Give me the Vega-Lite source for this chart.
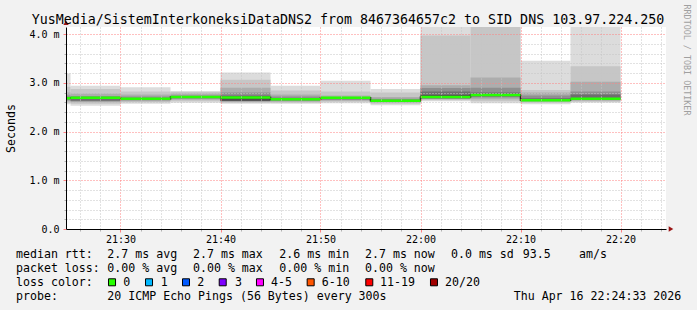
{
  "$schema": "https://vega.github.io/schema/vega-lite/v6.json",
  "width": 600,
  "height": 202,
  "autosize": {"type": "none"},
  "padding": {"left": 66, "top": 27, "right": 31, "bottom": 81},
  "background": "#f2f2f2",
  "config": {
    "font": "DejaVu Sans Mono",
    "view": {"fill": "white", "stroke": null}
  },
  "datasets": {
    "smoke": [
      {"m0": 20, "m1": 25, "lo": 2.56, "hi": 3.19, "shade": 1},
      {"m0": 25, "m1": 30, "lo": 2.53, "hi": 2.94, "shade": 1},
      {"m0": 30, "m1": 35, "lo": 2.57, "hi": 2.91, "shade": 1},
      {"m0": 35, "m1": 40, "lo": 2.59, "hi": 2.83, "shade": 1},
      {"m0": 40, "m1": 45, "lo": 2.57, "hi": 3.21, "shade": 1},
      {"m0": 45, "m1": 50, "lo": 2.57, "hi": 2.94, "shade": 1},
      {"m0": 50, "m1": 55, "lo": 2.58, "hi": 3.04, "shade": 1},
      {"m0": 55, "m1": 60, "lo": 2.54, "hi": 2.87, "shade": 1},
      {"m0": 60, "m1": 65, "lo": 2.62, "hi": 4.6, "shade": 1},
      {"m0": 65, "m1": 70, "lo": 2.58, "hi": 4.6, "shade": 1},
      {"m0": 70, "m1": 75, "lo": 2.56, "hi": 3.45, "shade": 1},
      {"m0": 75, "m1": 80, "lo": 2.59, "hi": 4.6, "shade": 1},

      {"m0": 20, "m1": 25, "lo": 2.59, "hi": 2.92, "shade": 2},
      {"m0": 25, "m1": 30, "lo": 2.57, "hi": 2.87, "shade": 2},
      {"m0": 30, "m1": 35, "lo": 2.60, "hi": 2.82, "shade": 2},
      {"m0": 35, "m1": 40, "lo": 2.62, "hi": 2.81, "shade": 2},
      {"m0": 40, "m1": 45, "lo": 2.59, "hi": 3.06, "shade": 2},
      {"m0": 45, "m1": 50, "lo": 2.59, "hi": 2.84, "shade": 2},
      {"m0": 50, "m1": 55, "lo": 2.61, "hi": 2.82, "shade": 2},
      {"m0": 55, "m1": 60, "lo": 2.57, "hi": 2.80, "shade": 2},
      {"m0": 60, "m1": 65, "lo": 2.64, "hi": 3.97, "shade": 2},
      {"m0": 65, "m1": 70, "lo": 2.62, "hi": 4.5, "shade": 2},
      {"m0": 70, "m1": 75, "lo": 2.59, "hi": 2.85, "shade": 2},
      {"m0": 75, "m1": 80, "lo": 2.61, "hi": 3.34, "shade": 2},

      {"m0": 20, "m1": 25, "lo": 2.62, "hi": 2.80, "shade": 3},
      {"m0": 25, "m1": 30, "lo": 2.60, "hi": 2.78, "shade": 3},
      {"m0": 30, "m1": 35, "lo": 2.62, "hi": 2.76, "shade": 3},
      {"m0": 35, "m1": 40, "lo": 2.65, "hi": 2.78, "shade": 3},
      {"m0": 40, "m1": 45, "lo": 2.61, "hi": 2.90, "shade": 3},
      {"m0": 45, "m1": 50, "lo": 2.61, "hi": 2.76, "shade": 3},
      {"m0": 50, "m1": 55, "lo": 2.63, "hi": 2.74, "shade": 3},
      {"m0": 55, "m1": 60, "lo": 2.59, "hi": 2.71, "shade": 3},
      {"m0": 60, "m1": 65, "lo": 2.66, "hi": 2.95, "shade": 3},
      {"m0": 65, "m1": 70, "lo": 2.66, "hi": 3.11, "shade": 3},
      {"m0": 70, "m1": 75, "lo": 2.61, "hi": 2.80, "shade": 3},
      {"m0": 75, "m1": 80, "lo": 2.63, "hi": 3.02, "shade": 3},

      {"m0": 20, "m1": 25, "lo": 2.64, "hi": 2.74, "shade": 4},
      {"m0": 25, "m1": 30, "lo": 2.62, "hi": 2.73, "shade": 4},
      {"m0": 30, "m1": 35, "lo": 2.64, "hi": 2.72, "shade": 4},
      {"m0": 35, "m1": 40, "lo": 2.67, "hi": 2.74, "shade": 4},
      {"m0": 40, "m1": 45, "lo": 2.62, "hi": 2.80, "shade": 4},
      {"m0": 45, "m1": 50, "lo": 2.63, "hi": 2.72, "shade": 4},
      {"m0": 50, "m1": 55, "lo": 2.65, "hi": 2.71, "shade": 4},
      {"m0": 55, "m1": 60, "lo": 2.61, "hi": 2.67, "shade": 4},
      {"m0": 60, "m1": 65, "lo": 2.67, "hi": 2.89, "shade": 4},
      {"m0": 65, "m1": 70, "lo": 2.70, "hi": 2.90, "shade": 4},
      {"m0": 70, "m1": 75, "lo": 2.63, "hi": 2.74, "shade": 4},
      {"m0": 75, "m1": 80, "lo": 2.65, "hi": 2.82, "shade": 4},

      {"m0": 20, "m1": 25, "lo": 2.66, "hi": 2.70, "shade": 5},
      {"m0": 25, "m1": 30, "lo": 2.63, "hi": 2.69, "shade": 5},
      {"m0": 30, "m1": 35, "lo": 2.65, "hi": 2.68, "shade": 5},
      {"m0": 35, "m1": 40, "lo": 2.69, "hi": 2.72, "shade": 5},
      {"m0": 40, "m1": 45, "lo": 2.63, "hi": 2.74, "shade": 5},
      {"m0": 45, "m1": 50, "lo": 2.64, "hi": 2.68, "shade": 5},
      {"m0": 50, "m1": 55, "lo": 2.66, "hi": 2.69, "shade": 5},
      {"m0": 55, "m1": 60, "lo": 2.62, "hi": 2.65, "shade": 5},
      {"m0": 60, "m1": 65, "lo": 2.68, "hi": 2.82, "shade": 5},
      {"m0": 65, "m1": 70, "lo": 2.72, "hi": 2.80, "shade": 5},
      {"m0": 70, "m1": 75, "lo": 2.64, "hi": 2.68, "shade": 5},
      {"m0": 75, "m1": 80, "lo": 2.66, "hi": 2.76, "shade": 5},

      {"m0": 40, "m1": 45, "lo": 2.63, "hi": 2.70, "shade": 6},
      {"m0": 60, "m1": 65, "lo": 2.69, "hi": 2.75, "shade": 6}
    ],
    "median": [
      {"m0": 20, "m1": 25, "med": 2.68},
      {"m0": 25, "m1": 30, "med": 2.69},
      {"m0": 30, "m1": 35, "med": 2.67},
      {"m0": 35, "m1": 40, "med": 2.71},
      {"m0": 40, "m1": 45, "med": 2.70},
      {"m0": 45, "m1": 50, "med": 2.66},
      {"m0": 50, "m1": 55, "med": 2.69},
      {"m0": 55, "m1": 60, "med": 2.63},
      {"m0": 60, "m1": 65, "med": 2.71},
      {"m0": 65, "m1": 70, "med": 2.75},
      {"m0": 70, "m1": 75, "med": 2.64},
      {"m0": 75, "m1": 80, "med": 2.67}
    ],
    "arrows": [
      {"m": 85.05, "v": 0, "dir": "right"},
      {"m": 24.55, "v": 4.23, "dir": "up"}
    ],
    "legend": [
      {"col": 0, "row": 1, "text": "median rtt:"},
      {"col": 12.79, "row": 1, "text": "2.7 ms avg"},
      {"col": 24.79, "row": 1, "text": "2.7 ms max"},
      {"col": 36.88, "row": 1, "text": "2.6 ms min"},
      {"col": 48.88, "row": 1, "text": "2.7 ms now"},
      {"col": 60.92, "row": 1, "text": "0.0 ms sd"},
      {"col": 70.97, "row": 1, "text": "93.5"},
      {"col": 78.85, "row": 1, "text": "am/s"},
      {"col": 0, "row": 2, "text": "packet loss:"},
      {"col": 12.79, "row": 2, "text": "0.00 % avg"},
      {"col": 24.79, "row": 2, "text": "0.00 % max"},
      {"col": 36.88, "row": 2, "text": "0.00 % min"},
      {"col": 48.88, "row": 2, "text": "0.00 % now"},
      {"col": 0, "row": 3, "text": "loss color:"},
      {"col": 15.03, "row": 3, "text": "0"},
      {"col": 20.27, "row": 3, "text": "1"},
      {"col": 25.39, "row": 3, "text": "2"},
      {"col": 30.67, "row": 3, "text": "3"},
      {"col": 35.71, "row": 3, "text": "4-5"},
      {"col": 42.82, "row": 3, "text": "6-10"},
      {"col": 50.98, "row": 3, "text": "11-19"},
      {"col": 60.08, "row": 3, "text": "20/20"},
      {"col": 0, "row": 4, "text": "probe:"},
      {"col": 12.79, "row": 4, "text": "20 ICMP Echo Pings (56 Bytes) every 300s"},
      {"col": 69.71, "row": 4, "text": "Thu Apr 16 22:24:33 2026"}
    ],
    "loss": [
      {"col": 13.45, "row": 2.7, "loss": "0"},
      {"col": 18.63, "row": 2.7, "loss": "1"},
      {"col": 23.81, "row": 2.7, "loss": "2"},
      {"col": 28.95, "row": 2.7, "loss": "3"},
      {"col": 34.17, "row": 2.7, "loss": "4-5"},
      {"col": 41.27, "row": 2.7, "loss": "6-10"},
      {"col": 49.48, "row": 2.7, "loss": "11-19"},
      {"col": 58.54, "row": 2.7, "loss": "20/20"}
    ],
    "side": [
      {"col": 93.98, "row": -13.18, "text": "RRDTOOL / TOBI OETIKER"}
    ],
    "heading": [
      {"col": 46.5, "row": -15.75, "text": "YusMedia/SistemInterkoneksiDataDNS2 from 8467364657c2 to SID DNS 103.97.224.250"}
    ]
  },
  "layer": [
    {
      "data": {"name": "smoke"},
      "mark": {"type": "rect", "clip": true},
      "encoding": {
        "x": {
          "field": "m0", "type": "quantitative",
          "scale": {"domain": [24.55, 84.55], "nice": false, "zero": false},
          "axis": {
            "orient": "bottom",
            "title": null,
            "values": [26, 28, 32, 34, 36, 38, 42, 44, 46, 48, 52, 54, 56, 58, 62, 64, 66, 68, 72, 74, 76, 78, 82, 84],
            "labels": false,
            "grid": true,
            "gridColor": "#c4c4c4",
            "gridDash": [1, 2],
            "gridWidth": 1,
            "tickSize": 2,
            "tickColor": "#b0b0b0",
            "domain": false,
            "zindex": 1
          }
        },
        "x2": {"field": "m1"},
        "y": {
          "field": "lo", "type": "quantitative",
          "scale": {"domain": [0, 4.1436], "nice": false, "zero": false},
          "axis": {
            "orient": "left",
            "title": null,
            "values": [0.2, 0.4, 0.6, 0.8, 1.2, 1.4, 1.6, 1.8, 2.2, 2.4, 2.6, 2.8, 3.2, 3.4, 3.6, 3.8],
            "labels": false,
            "grid": true,
            "gridColor": "#c4c4c4",
            "gridDash": [1, 2],
            "gridWidth": 1,
            "tickSize": 2,
            "tickColor": "#b0b0b0",
            "domain": false,
            "zindex": 1
          }
        },
        "y2": {"field": "hi"},
        "color": {
          "field": "shade", "type": "ordinal",
          "scale": {"domain": [1, 2, 3, 4, 5, 6], "range": ["#dcdcdc", "#c6c6c6", "#adadad", "#8f8f8f", "#6e6e6e", "#4d4d4d"]},
          "legend": null
        }
      }
    },
    {
      "data": {"name": "median"},
      "mark": {"type": "line", "interpolate": "step-after", "color": "#222222", "strokeWidth": 1.5, "clip": true},
      "encoding": {
        "x": {"field": "m0", "type": "quantitative", "axis": null, "scale": {"domain": [24.55, 84.55], "nice": false, "zero": false}},
        "y": {"field": "med", "type": "quantitative", "axis": null, "scale": {"domain": [0, 4.1436], "nice": false, "zero": false}}
      }
    },
    {
      "data": {"name": "median"},
      "mark": {"type": "rule", "color": "#26ff00", "strokeWidth": 2.5, "clip": true},
      "encoding": {
        "x": {
          "field": "m0", "type": "quantitative",
          "scale": {"domain": [24.55, 84.55], "nice": false, "zero": false},
          "axis": {
            "orient": "bottom",
            "title": null,
            "values": [30, 40, 50, 60, 70, 80],
            "labelExpr": "(21 + floor(datum.value / 60)) + ':' + (datum.value % 60 < 10 ? '0' : '') + (datum.value % 60)",
            "grid": true,
            "gridColor": "#ff8080",
            "gridDash": [1, 2],
            "gridWidth": 1,
            "tickSize": 3,
            "tickColor": "#ff8080",
            "domainColor": "#000000",
            "labelFont": "DejaVu Sans Mono",
            "labelFontSize": 10,
            "labelColor": "#000000",
            "labelPadding": 2,
            "labelOverlap": false,
            "labelFlush": false,
            "labelBound": false,
            "zindex": 1
          }
        },
        "x2": {"field": "m1"},
        "y": {
          "field": "med", "type": "quantitative",
          "scale": {"domain": [0, 4.1436], "nice": false, "zero": false},
          "axis": {
            "orient": "left",
            "title": "Seconds",
            "values": [0, 1, 2, 3, 4],
            "labelExpr": "datum.value == 0 ? '0.0' : format(datum.value, '.1f') + ' m'",
            "grid": true,
            "gridColor": "#ff8080",
            "gridDash": [1, 2],
            "gridWidth": 1,
            "tickSize": 3,
            "tickColor": "#ff8080",
            "domainColor": "#000000",
            "labelFont": "DejaVu Sans Mono",
            "labelFontSize": 10,
            "labelColor": "#000000",
            "labelPadding": 4,
            "labelOverlap": false,
            "labelFlush": false,
            "labelBound": false,
            "titleFont": "DejaVu Sans Mono",
            "titleFontSize": 11.6,
            "titleFontWeight": "normal",
            "titleColor": "#000000",
            "titlePadding": 12,
            "zindex": 1
          }
        }
      }
    },
    {
      "data": {"name": "arrows"},
      "mark": {"type": "point", "filled": true, "color": "#9a1515", "size": 28, "opacity": 1},
      "encoding": {
        "x": {"field": "m", "type": "quantitative", "axis": null, "scale": {"domain": [24.55, 84.55], "nice": false, "zero": false}},
        "y": {"field": "v", "type": "quantitative", "axis": null, "scale": {"domain": [0, 4.1436], "nice": false, "zero": false}},
        "shape": {
          "field": "dir", "type": "nominal",
          "scale": {"domain": ["right", "up"], "range": ["triangle-right", "triangle-up"]},
          "legend": null
        }
      }
    },
    {
      "data": {"name": "legend"},
      "mark": {"type": "text", "align": "left", "baseline": "alphabetic", "font": "DejaVu Sans Mono", "fontSize": 11.6, "color": "#000000"},
      "encoding": {
        "x": {"field": "col", "type": "quantitative", "scale": {"domain": [7.0028, 91.036], "nice": false, "zero": false}, "axis": null},
        "y": {"field": "row", "type": "quantitative", "scale": {"domain": [-15.536, -1.107], "reverse": true, "nice": false, "zero": false}, "axis": null},
        "text": {"field": "text"}
      }
    },
    {
      "data": {"name": "heading"},
      "mark": {"type": "text", "align": "center", "baseline": "alphabetic", "font": "DejaVu Sans Mono", "fontSize": 13.3, "color": "#000000"},
      "encoding": {
        "x": {"field": "col", "type": "quantitative", "scale": {"domain": [7.0028, 91.036], "nice": false, "zero": false}, "axis": null},
        "y": {"field": "row", "type": "quantitative", "scale": {"domain": [-15.536, -1.107], "reverse": true, "nice": false, "zero": false}, "axis": null},
        "text": {"field": "text"}
      }
    },
    {
      "data": {"name": "loss"},
      "mark": {"type": "point", "shape": "square", "filled": true, "size": 49, "stroke": "#000000", "strokeWidth": 1, "opacity": 1},
      "encoding": {
        "x": {"field": "col", "type": "quantitative", "scale": {"domain": [7.0028, 91.036], "nice": false, "zero": false}, "axis": null},
        "y": {"field": "row", "type": "quantitative", "scale": {"domain": [-15.536, -1.107], "reverse": true, "nice": false, "zero": false}, "axis": null},
        "fill": {
          "field": "loss", "type": "nominal",
          "scale": {"domain": ["0", "1", "2", "3", "4-5", "6-10", "11-19", "20/20"], "range": ["#26ff00", "#00b8ff", "#0059ff", "#7e00ff", "#ff00ff", "#ff5500", "#ff0000", "#a10000"]},
          "legend": null
        }
      }
    },
    {
      "data": {"name": "side"},
      "mark": {"type": "text", "align": "center", "baseline": "middle", "angle": 90, "font": "DejaVu Sans Mono", "fontSize": 8.4, "color": "#a0a0a0"},
      "encoding": {
        "x": {"field": "col", "type": "quantitative", "scale": {"domain": [7.0028, 91.036], "nice": false, "zero": false}, "axis": null},
        "y": {"field": "row", "type": "quantitative", "scale": {"domain": [-15.536, -1.107], "reverse": true, "nice": false, "zero": false}, "axis": null},
        "text": {"field": "text"}
      }
    }
  ],
  "resolve": {"scale": {"x": "independent", "y": "independent", "color": "independent", "fill": "independent", "shape": "independent"}}
}
